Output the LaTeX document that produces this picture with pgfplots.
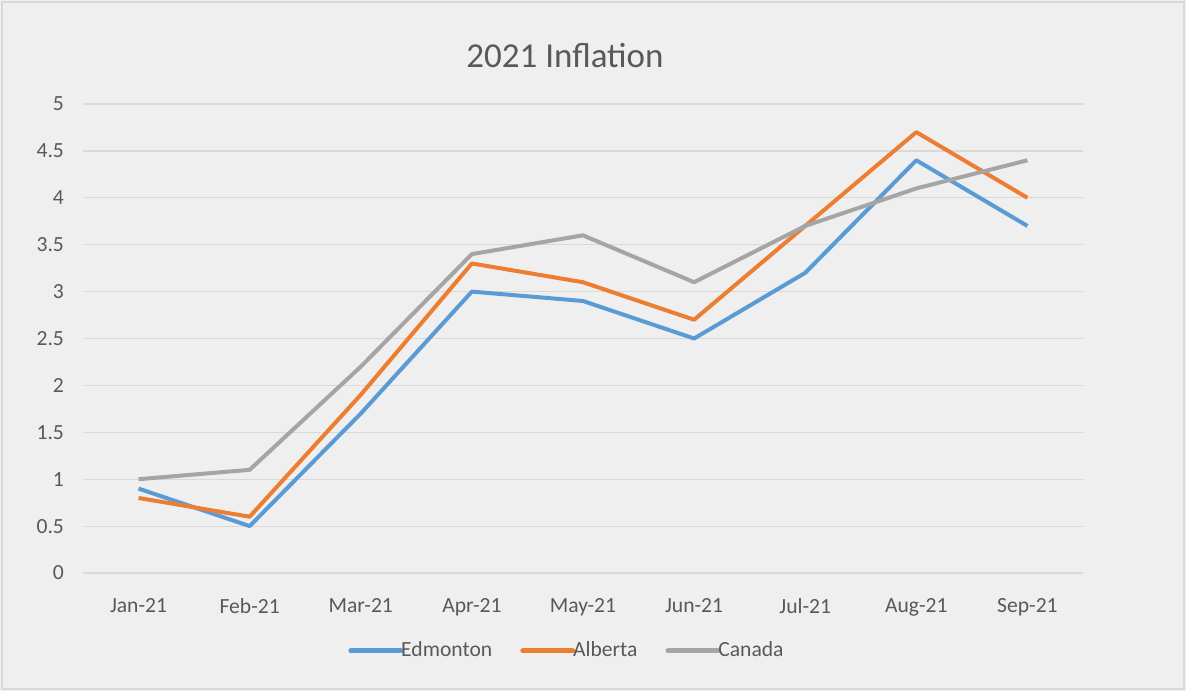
\documentclass[border=0pt]{standalone}
\usepackage{pgfplots}
\pgfplotsset{compat=1.18}
\usepackage{fontspec}
\setmainfont{Carlito}
\definecolor{bgc}{HTML}{EFEFEF}
\definecolor{gridc}{HTML}{D9D9D9}
\definecolor{txt}{HTML}{595959}
\definecolor{cblue}{HTML}{5B9BD5}
\definecolor{corange}{HTML}{ED7D31}
\definecolor{cgray}{HTML}{A5A5A5}
\begin{document}
\begin{tikzpicture}
\fill[bgc] (0,0) rectangle (593pt,345.5pt);
\draw[gridc, line width=0.6pt] (1pt,1pt) rectangle (592pt,344.5pt);
\begin{axis}[
  at={(41.5pt,59pt)}, anchor=south west,
  scale only axis, width=500pt, height=234.5pt,
  xmin=-0.5, xmax=8.5, ymin=0, ymax=5,
  xtick={0,...,8},
  xticklabels={Jan-21,Feb-21,Mar-21,Apr-21,May-21,Jun-21,Jul-21,Aug-21,Sep-21},
  ytick={0,0.5,...,5},
  yticklabels={0,0.5,1,1.5,2,2.5,3,3.5,4,4.5,5},
  axis line style={draw=none},
  major tick length=0pt,
  ymajorgrids, grid style={gridc, line width=0.6pt},
  tick label style={font=\fontsize{10.8}{12}\selectfont, text=txt},
  /pgf/number format/assume math mode=true,
  xticklabel style={yshift=-9pt},
  yticklabel style={xshift=-6pt},
  legend style={draw=none, fill=none, at={(0.485,-0.166)}, anchor=center,
    legend columns=3, font=\fontsize{10.8}{12}\selectfont, text=txt,
    legend cell align=left,
    /tikz/every odd column/.append style={inner xsep=0pt},
    /tikz/every even column/.append style={column sep=12pt}},
  legend image code/.code={\draw[#1, line width=2.4pt, line cap=round] (0pt,0pt) -- (25pt,0pt);},
  clip=false,
]
\addplot[cblue, line width=2pt, line join=round] coordinates {(0,0.9)(1,0.5)(2,1.7)(3,3.0)(4,2.9)(5,2.5)(6,3.2)(7,4.4)(8,3.7)};
\addlegendentry{\hspace{-3pt}Edmonton}
\addplot[corange, line width=2pt, line join=round] coordinates {(0,0.8)(1,0.6)(2,1.9)(3,3.3)(4,3.1)(5,2.7)(6,3.7)(7,4.7)(8,4.0)};
\addlegendentry{\hspace{-3pt}Alberta}
\addplot[cgray, line width=2pt, line join=round] coordinates {(0,1.0)(1,1.1)(2,2.2)(3,3.4)(4,3.6)(5,3.1)(6,3.7)(7,4.1)(8,4.4)};
\addlegendentry{\hspace{-3pt}Canada}
\node[text=txt, font=\fontsize{17.5}{20}\selectfont] at (rel axis cs:0.482,1.104) {2021 Inflation};
\end{axis}
\end{tikzpicture}
\end{document}
